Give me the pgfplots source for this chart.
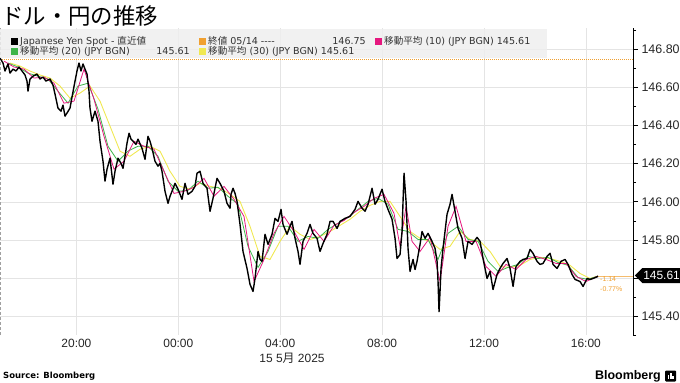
\documentclass[border=0pt]{standalone}
\usepackage{fontspec}
\usepackage{pgfplots}
\pgfplotsset{compat=1.18}
\usetikzlibrary{shapes.symbols}
\setmainfont{Liberation Sans}
\newfontfamily\cjk{Noto Sans CJK JP}
\newfontfamily\dv{DejaVu Sans}
\definecolor{bbmag}{HTML}{E5177E}
\definecolor{bbgreen}{HTML}{3DB54A}
\definecolor{bbyellow}{HTML}{F0E850}
\definecolor{bborange}{HTML}{F0A030}
\definecolor{gridc}{HTML}{E4E4E4}
\definecolor{legbg}{HTML}{EEEEEE}
\definecolor{legtxt}{HTML}{333333}
\begin{document}
\begin{tikzpicture}[x=1bp,y=1bp]
\useasboundingbox (0,0) rectangle (680,382);
\begin{axis}[
  at={(0bp,47bp)}, anchor=south west,
  width=633bp, height=307bp, scale only axis,
  xmin=0, xmax=24.85, ymin=145.30, ymax=146.913,
  axis y line*=right, axis x line*=bottom,
  x axis line style={draw=none},
  y axis line style={black, line width=0.8pt, -},
  xtick={3,7,11,15,19,23},
  xticklabels={20:00,00:00,04:00,08:00,12:00,16:00},
  x tick style={draw=none},
  ytick={145.4,145.6,145.8,146.0,146.2,146.4,146.6,146.8},
  yticklabels={145.40,,145.80,146.00,146.20,146.40,146.60,146.80},
  minor ytick={145.3,145.5,145.7,145.9,146.1,146.3,146.5,146.7,146.9},
  y tick style={black, line width=0.6pt},
  major tick length=5bp, minor tick length=3bp,
  tick align=outside,
  ymajorgrids, xmajorgrids,
  major grid style={gridc, line width=0.5pt},
  yticklabel style={font=\fontsize{12.5}{14}\selectfont, text=black!85},
  xticklabel style={font=\fontsize{12}{14}\selectfont, text=black!85, yshift=4bp},
  clip=false,
]
\draw[gridc!70!black, dash pattern=on 3bp off 2bp, line width=0.5pt] (axis cs:0,145.30) -- (axis cs:0,146.913);
\draw[bborange, dash pattern=on 1bp off 1bp, line width=0.9pt] (axis cs:0,146.75) -- (axis cs:24.85,146.75);
\draw[bborange!70, line width=0.5pt] (axis cs:23.477,145.61) -- (axis cs:24.85,145.61);
% MA30
\addplot[bbyellow, line width=0.9pt] coordinates {(0.393,146.729)(0.785,146.713)(1.178,146.687)(1.570,146.666)(1.963,146.650)(2.356,146.608)(2.748,146.544)(3.141,146.571)(3.533,146.608)(3.926,146.529)(4.319,146.397)(4.711,146.266)(5.104,146.239)(5.496,146.276)(5.889,146.292)(6.282,146.266)(6.674,146.160)(7.067,146.081)(7.459,146.066)(7.852,146.097)(8.245,146.081)(8.637,146.071)(9.030,146.039)(9.422,146.002)(9.815,145.871)(10.208,145.713)(10.600,145.697)(10.993,145.792)(11.385,145.871)(11.778,145.829)(12.171,145.802)(12.563,145.818)(12.956,145.844)(13.348,145.876)(13.741,145.908)(14.134,145.950)(14.526,145.981)(14.919,146.002)(15.311,146.002)(15.704,145.923)(16.097,145.844)(16.489,145.808)(16.882,145.792)(17.274,145.750)(17.667,145.766)(18.060,145.844)(18.452,145.802)(18.845,145.792)(19.237,145.739)(19.630,145.660)(20.023,145.655)(20.415,145.666)(20.808,145.697)(21.200,145.708)(21.593,145.702)(21.986,145.687)(22.378,145.666)(22.771,145.623)(23.163,145.597)(23.477,145.61)};
% MA20
\addplot[bbgreen, line width=0.8pt] coordinates {(0.314,146.729)(0.707,146.708)(1.099,146.676)(1.492,146.660)(1.884,146.645)(2.277,146.581)(2.670,146.518)(3.062,146.608)(3.455,146.623)(3.847,146.487)(4.240,146.292)(4.633,146.213)(5.025,146.266)(5.418,146.292)(5.810,146.292)(6.203,146.239)(6.596,146.108)(6.988,146.055)(7.381,146.060)(7.773,146.108)(8.166,146.071)(8.559,146.076)(8.951,146.029)(9.344,145.987)(9.736,145.766)(10.129,145.655)(10.522,145.739)(10.914,145.871)(11.307,145.871)(11.699,145.792)(12.092,145.818)(12.485,145.808)(12.877,145.855)(13.270,145.887)(13.662,145.918)(14.055,145.960)(14.448,146.002)(14.840,146.018)(15.233,145.987)(15.625,145.855)(16.018,145.844)(16.411,145.802)(16.803,145.802)(17.196,145.697)(17.588,145.834)(17.981,145.871)(18.374,145.802)(18.766,145.792)(19.159,145.687)(19.551,145.634)(19.944,145.655)(20.337,145.671)(20.729,145.713)(21.122,145.702)(21.514,145.708)(21.907,145.681)(22.300,145.666)(22.692,145.602)(23.085,145.592)(23.477,145.61)};
% MA10
\addplot[bbmag, line width=0.8pt] coordinates {(0.157,146.739)(0.550,146.708)(0.942,146.697)(1.335,146.650)(1.727,146.655)(2.120,146.623)(2.513,146.518)(2.905,146.529)(3.298,146.697)(3.690,146.539)(4.083,146.344)(4.476,146.171)(4.868,146.213)(5.261,146.318)(5.653,146.292)(6.046,146.276)(6.439,146.160)(6.831,146.044)(7.224,146.055)(7.616,146.076)(8.009,146.123)(8.402,146.029)(8.794,146.081)(9.187,146.013)(9.579,145.923)(9.972,145.581)(10.365,145.697)(10.757,145.834)(11.150,145.923)(11.542,145.844)(11.935,145.750)(12.328,145.855)(12.720,145.792)(13.113,145.876)(13.505,145.902)(13.898,145.944)(14.291,145.976)(14.683,146.018)(15.076,146.039)(15.468,145.939)(15.704,145.766)(15.940,145.976)(16.175,145.792)(16.489,145.739)(16.882,145.813)(17.274,145.581)(17.588,145.871)(17.903,145.976)(18.295,145.792)(18.688,145.792)(19.080,145.660)(19.473,145.608)(19.866,145.671)(20.258,145.644)(20.651,145.697)(21.043,145.713)(21.436,145.697)(21.829,145.676)(22.221,145.676)(22.614,145.608)(23.006,145.581)(23.477,145.61)};
% Price
\addplot[black, line width=1.4pt, line join=round] coordinates {(0,146.755)(0.118,146.729)(0.196,146.687)(0.314,146.724)(0.393,146.676)(0.510,146.697)(0.628,146.687)(0.746,146.708)(0.864,146.687)(0.982,146.666)(1.060,146.634)(1.099,146.581)(1.178,146.645)(1.296,146.660)(1.453,146.671)(1.570,146.645)(1.688,146.655)(1.806,146.634)(1.963,146.645)(2.081,146.613)(2.159,146.566)(2.277,146.492)(2.395,146.476)(2.473,146.508)(2.552,146.450)(2.630,146.466)(2.748,146.492)(2.827,146.550)(2.945,146.634)(3.023,146.687)(3.102,146.729)(3.180,146.687)(3.259,146.724)(3.337,146.697)(3.416,146.671)(3.494,146.581)(3.533,146.492)(3.612,146.423)(3.730,146.476)(3.847,146.423)(3.926,146.318)(4.044,146.213)(4.122,146.108)(4.201,146.171)(4.319,146.229)(4.436,146.092)(4.515,146.160)(4.633,146.229)(4.750,146.202)(4.829,146.176)(4.908,146.239)(4.986,146.308)(5.065,146.360)(5.143,146.329)(5.222,146.318)(5.339,146.302)(5.418,146.329)(5.575,146.281)(5.693,146.223)(5.810,146.344)(5.889,146.318)(5.968,146.281)(6.085,146.213)(6.203,146.187)(6.282,146.202)(6.360,146.160)(6.478,146.055)(6.596,145.992)(6.674,146.029)(6.753,146.055)(6.871,146.097)(6.988,146.066)(7.145,146.013)(7.263,146.097)(7.381,146.039)(7.538,146.055)(7.656,146.081)(7.734,146.150)(7.852,146.160)(7.970,146.097)(8.127,146.071)(8.245,145.950)(8.362,146.018)(8.519,146.123)(8.637,146.097)(8.794,146.055)(8.912,145.992)(9.030,145.966)(9.069,146.039)(9.148,146.071)(9.226,146.044)(9.305,146.002)(9.422,145.881)(9.540,145.739)(9.697,145.650)(9.815,145.566)(9.933,145.529)(10.011,145.597)(10.129,145.739)(10.208,145.697)(10.286,145.687)(10.404,145.829)(10.522,145.776)(10.679,145.829)(10.797,145.913)(10.914,145.897)(11.032,145.960)(11.111,145.881)(11.268,145.829)(11.385,145.871)(11.464,145.897)(11.582,145.808)(11.699,145.739)(11.778,145.671)(11.896,145.792)(12.053,145.834)(12.171,145.881)(12.288,145.834)(12.445,145.808)(12.563,145.739)(12.681,145.781)(12.838,145.829)(12.956,145.897)(13.074,145.897)(13.231,145.860)(13.348,145.897)(13.545,145.913)(13.741,145.923)(13.937,145.960)(14.055,146.002)(14.212,145.966)(14.330,145.950)(14.448,145.987)(14.605,146.071)(14.723,145.987)(14.840,146.013)(14.997,146.066)(15.115,146.002)(15.233,145.960)(15.390,145.908)(15.508,145.808)(15.586,145.702)(15.704,145.723)(15.783,145.844)(15.822,146.002)(15.861,146.150)(15.940,146.002)(16.018,145.755)(16.097,145.634)(16.214,145.697)(16.293,145.644)(16.371,145.687)(16.489,145.776)(16.568,145.844)(16.686,145.808)(16.803,145.834)(16.960,145.792)(17.078,145.755)(17.157,145.687)(17.196,145.581)(17.235,145.423)(17.274,145.529)(17.314,145.650)(17.392,145.755)(17.549,145.934)(17.667,145.987)(17.746,146.039)(17.863,145.950)(17.981,145.860)(18.138,145.808)(18.256,145.702)(18.374,145.792)(18.531,145.776)(18.727,145.813)(18.845,145.792)(18.963,145.702)(19.120,145.597)(19.237,145.634)(19.355,145.539)(19.512,145.618)(19.630,145.650)(19.748,145.676)(19.905,145.702)(20.023,145.650)(20.140,145.555)(20.258,145.660)(20.415,145.687)(20.533,145.697)(20.690,145.702)(20.808,145.750)(20.926,145.729)(21.083,145.687)(21.200,145.671)(21.318,145.676)(21.475,145.713)(21.593,145.729)(21.711,145.671)(21.868,145.650)(22.025,145.687)(22.182,145.697)(22.300,145.671)(22.457,145.618)(22.575,145.592)(22.771,145.581)(22.889,145.555)(23.046,145.597)(23.163,145.592)(23.281,145.597)(23.477,145.608)};
\end{axis}
% title
\node[anchor=west, inner sep=0pt] at (1,366) {\cjk\fontsize{22.5}{25}\selectfont ドル・円の推移};
% legend
\fill[legbg, opacity=0.85] (0,324) rectangle (547,353);
\begin{scope}[every node/.style={anchor=west, inner sep=0pt, text=legtxt, font=\dv\fontsize{9.6}{11}\selectfont}]
\fill[black] (11,337.5) rectangle (18,344.5);
\node at (20,341) {Japanese Yen Spot - {\cjk 直近値}};
\fill[bborange] (199,337.5) rectangle (206,344.5);
\node at (208,341) {{\cjk 終値} 05/14 ----};
\node[anchor=east] at (366,341) {146.75};
\fill[bbmag] (375,337.5) rectangle (382,344.5);
\node at (384,341) {{\cjk 移動平均} (10) (JPY BGN) 145.61};
\fill[bbgreen] (11,327.5) rectangle (18,334.5);
\node at (20,331) {{\cjk 移動平均} (20) (JPY BGN)};
\node[anchor=east] at (190,331) {145.61};
\fill[bbyellow] (199,327.5) rectangle (206,334.5);
\node at (208,331) {{\cjk 移動平均} (30) (JPY BGN) 145.61};
\end{scope}
% last price box
\node[signal, signal to=west, fill=black, text=white, inner xsep=1bp, inner ysep=1.8bp, minimum height=15bp, anchor=west, font=\fontsize{12}{14}\selectfont] at (634.5,106.5) {145.61};
\node[anchor=west, inner sep=0pt, text=bborange, font=\fontsize{7}{8}\selectfont] at (600,103) {-1.14};
\node[anchor=west, inner sep=0pt, text=bborange, font=\fontsize{7}{8}\selectfont] at (600,93) {-0.77\%};
% date
\node[inner sep=0pt, text=black!85, font=\fontsize{12}{14}\selectfont] at (292,24) {15 5{\cjk 月} 2025};
% source
\node[anchor=west, inner sep=0pt, font=\dv\bfseries\fontsize{8.5}{10}\selectfont] at (3,6) {Source: Bloomberg};
\node[anchor=east, inner sep=0pt, font=\bfseries\fontsize{12.5}{14}\selectfont] at (661,6) {Bloomberg};
\fill[black, rounded corners=1bp] (665,0.5) rectangle (676,11.5);
\fill[white] (668,3) rectangle (669.3,7);
\fill[white] (670.2,3) rectangle (671.5,9);
\fill[white] (672.4,3) rectangle (673.7,6);
\end{tikzpicture}
\end{document}
